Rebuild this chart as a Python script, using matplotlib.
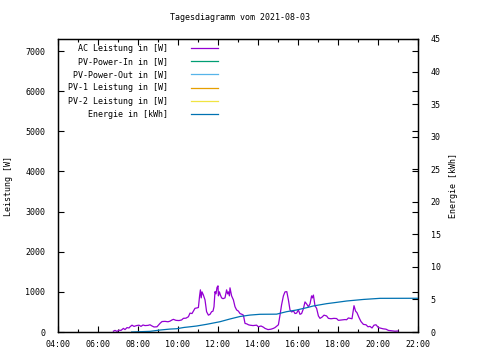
import matplotlib
matplotlib.use("Agg")
import matplotlib.pyplot as plt
import numpy as np

plt.rcParams['font.family'] = ['DejaVu Sans Mono']

title = "Tagesdiagramm vom 2021-08-03"
series_labels = ["AC Leistung in [W]", "PV-Power-In in [W]", "PV-Power-Out in [W]",
                 "PV-1 Leistung in [W]", "PV-2 Leistung in [W]", "Energie in [kWh]"]
series_colors = ["#9400d3", "#009e73", "#56b4e9", "#e69f00", "#f0e442", "#0072b2"]

# AC power (hours of day, W)
ac_time = [6.77, 6.85, 6.95, 7.05, 7.15, 7.27, 7.35, 7.45, 7.55, 7.6, 7.7, 7.8, 7.93, 8.05, 8.15,
           8.25, 8.35, 8.5, 8.6, 8.7, 8.8, 8.95, 9.1, 9.2, 9.35, 9.5, 9.6, 9.7, 9.77, 9.9, 10.05,
           10.18, 10.27, 10.4, 10.52, 10.6, 10.7, 10.85, 10.95, 11.02, 11.08, 11.12, 11.16, 11.2,
           11.27, 11.35, 11.43, 11.52, 11.6, 11.68, 11.75, 11.8, 11.85, 11.9, 11.95, 12.0, 12.02,
           12.07, 12.12, 12.18, 12.25, 12.35, 12.43, 12.48, 12.52, 12.57, 12.6, 12.68, 12.77,
           12.85, 12.93, 13.02, 13.1, 13.2, 13.27, 13.35, 13.45, 13.52, 13.6, 13.75, 13.93, 14.02,
           14.15, 14.27, 14.35, 14.5, 14.65, 14.77, 14.85, 14.95, 15.02, 15.1, 15.18, 15.27, 15.35,
           15.44, 15.52, 15.6, 15.68, 15.78, 15.85, 15.93, 16.02, 16.1, 16.18, 16.27, 16.35, 16.43,
           16.52, 16.6, 16.68, 16.72, 16.77, 16.85, 16.93, 17.02, 17.1, 17.2, 17.3, 17.43, 17.52,
           17.65, 17.8, 17.93, 18.02, 18.2, 18.35, 18.43, 18.52, 18.6, 18.7, 18.8, 18.88, 18.95,
           19.05, 19.15, 19.27, 19.4, 19.5, 19.6, 19.7, 19.8, 19.9, 20.02, 20.1, 20.25, 20.4,
           20.52, 20.7, 20.85, 21.0]
ac_power = [20, 40, 15, 45, 40, 90, 60, 110, 100, 130, 170, 140, 160, 170, 140,
            175, 160, 165, 180, 150, 125, 130, 215, 260, 265, 255, 270, 300, 315, 290, 285,
            300, 340, 345, 380, 470, 460, 590, 600, 610, 900, 1050, 850, 1000,
            920, 800, 505, 420, 440, 505, 520, 630, 1005, 950, 1110, 1150, 900,
            1000, 920, 850, 830, 850, 1050, 950, 1000, 900, 1100, 900, 800,
            630, 550, 520, 460, 440, 420, 215, 200, 180, 170, 160, 170, 130,
            150, 120, 90, 60, 70, 90, 110, 150, 180, 420, 680, 900, 1000,
            1005, 800, 550, 500, 520, 460, 470, 550, 440, 460, 580, 750, 700,
            630, 700, 900, 850, 920, 650, 590, 400, 340, 370, 420, 400, 340,
            330, 340, 335, 290, 300, 310, 305, 350, 340, 330, 655, 520, 480,
            360, 260, 190, 180, 130, 140, 100, 170, 180, 110, 100, 80, 70,
            40, 30, 20, 25]

# Energy (hours of day, kWh)
en_time = [7.68, 8.6, 9.1, 9.6, 9.93, 10.3, 10.6, 10.93, 11.43, 11.6, 12.1, 12.6, 13.1, 13.6,
           14.1, 14.93, 15.1, 15.43, 15.93, 16.43, 16.77, 17.43, 17.93, 18.43, 19.27, 20.1, 22.0]
en_kwh = [0.0, 0.1, 0.3, 0.45, 0.5, 0.7, 0.8, 0.92, 1.18, 1.28, 1.58, 2.0, 2.38, 2.6,
          2.72, 2.74, 2.87, 3.12, 3.38, 3.73, 4.0, 4.35, 4.55, 4.76, 5.0, 5.17, 5.18]

x_ticks = [4, 6, 8, 10, 12, 14, 16, 18, 20, 22]
x_ticklabels = ["04:00", "06:00", "08:00", "10:00", "12:00", "14:00", "16:00", "18:00", "20:00", "22:00"]
y1_ticks = [0, 1000, 2000, 3000, 4000, 5000, 6000, 7000]
y2_ticks = [0, 5, 10, 15, 20, 25, 30, 35, 40, 45]

fs = 6
fig = plt.figure(figsize=(4.8, 3.6), dpi=100)
ax = fig.add_axes([58/480, 1-332/360, 360/480, 293/360])
ax2 = ax.twinx()

lw = 0.9
handles = []
h, = ax.plot(ac_time, ac_power, color=series_colors[0], lw=lw, label=series_labels[0])
handles.append(h)
for i in range(1, 5):
    h, = ax.plot([], [], color=series_colors[i], lw=lw, label=series_labels[i])
    handles.append(h)
h, = ax2.plot(en_time, en_kwh, color=series_colors[5], lw=lw, label=series_labels[5])
handles.append(h)

ax.set_xlim(4, 22)
ax.set_ylim(0, 7300)
ax2.set_ylim(0, 45)

ax.set_xticks(x_ticks)
ax.set_xticklabels(x_ticklabels, fontsize=fs)
ax.set_xticks(np.arange(5, 22, 2), minor=True)
ax.set_yticks(y1_ticks)
ax.set_yticklabels([str(v) for v in y1_ticks], fontsize=fs)
ax2.set_yticks(y2_ticks)
ax2.set_yticklabels([str(v) for v in y2_ticks], fontsize=fs)

ax.tick_params(axis='x', which='major', direction='in', length=4, width=0.8, top=True, pad=6)
ax.tick_params(axis='x', which='minor', direction='in', length=2, width=0.8, top=True)
ax.tick_params(axis='y', which='major', direction='in', length=4, width=0.8, right=True, pad=9)
ax2.tick_params(axis='y', which='major', direction='in', length=4, width=0.8, pad=9)

for a in (ax, ax2):
    for s in a.spines.values():
        s.set_linewidth(0.9)

ax.set_ylabel("Leistung [W]", fontsize=fs, labelpad=9)
ax2.set_ylabel("Energie [kWh]", fontsize=fs, labelpad=6)
fig.text(0.5, 1-18/360, title, fontsize=fs, ha='center', va='center')

leg = ax2.legend(handles=handles, loc='upper right', markerfirst=False, frameon=False,
                 bbox_to_anchor=((218-58)/360, 1 - 5/293), borderaxespad=0, borderpad=0,
                 fontsize=fs, handlelength=3.3, handletextpad=2.7, labelspacing=0.5)

fig.savefig("out.png", dpi=100)
